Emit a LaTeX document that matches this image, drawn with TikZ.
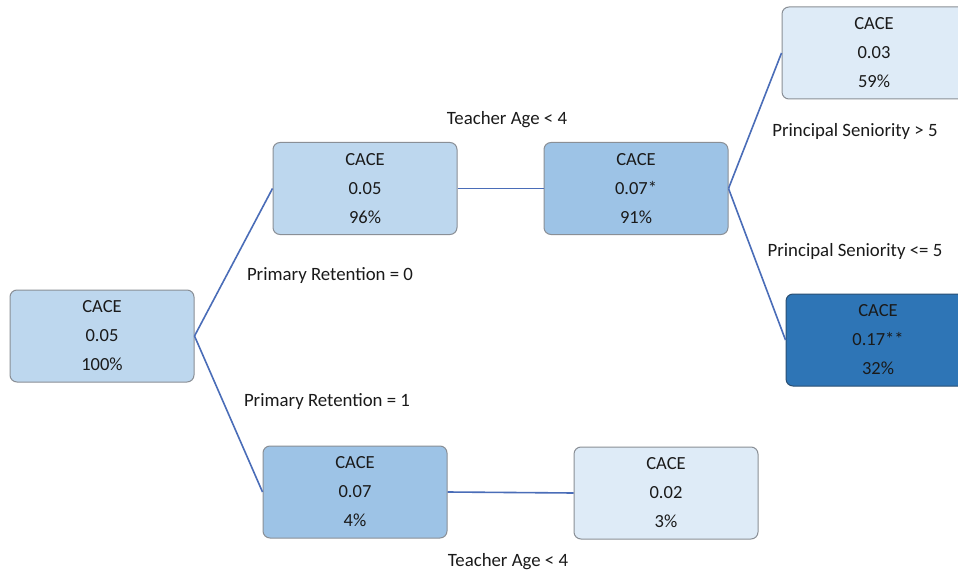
\documentclass[tikz,border=0pt]{standalone}
\usepackage{fontspec}
\setmainfont{Carlito}
\definecolor{boxmid}{HTML}{BDD7EE}
\definecolor{boxdeep}{HTML}{9DC3E6}
\definecolor{boxpale}{HTML}{DEEBF7}
\definecolor{boxdark}{HTML}{2E75B6}
\definecolor{boxedge}{HTML}{8A8F96}
\definecolor{darkedge}{HTML}{2A4F73}
\definecolor{branch}{HTML}{4A6DB8}
\definecolor{ink}{HTML}{1A1A1A}
\begin{document}
\begin{tikzpicture}[x=1pt,y=-1pt,
  treebox/.style={draw=boxedge, line width=1pt, rounded corners=7pt,
    minimum width=184pt, minimum height=92pt, inner sep=0pt,
    align=center, text=ink, font=\fontsize{18.5}{29}\selectfont},
  split/.style={text=ink, font=\fontsize{18.8}{22}\selectfont},
  branchline/.style={draw=branch, line width=1.6pt}]
  \clip (0,0) rectangle (958,572);
  \fill[white] (0,0) rectangle (958,572);

  % tree nodes
  \node[treebox, fill=boxmid]  (root) at (102,336) {CACE\\0.05\\100\%};
  \node[treebox, fill=boxmid]  (left0) at (365,188.5) {CACE\\0.05\\96\%};
  \node[treebox, fill=boxdeep] (mid0) at (636,188.5) {CACE\\0.07*\\91\%};
  \node[treebox, fill=boxpale] (senhi) at (874,53) {CACE\\0.03\\59\%};
  \node[treebox, fill=boxdark, draw=darkedge] (senlo) at (878,340) {CACE\\0.17**\\32\%};
  \node[treebox, fill=boxdeep] (left1) at (355,492) {CACE\\0.07\\4\%};
  \node[treebox, fill=boxpale] (mid1) at (666,493) {CACE\\0.02\\3\%};

  % branches
  \draw[branchline] (root.east) -- (left0.west);
  \draw[branchline] (root.east) -- (left1.west);
  \draw[branchline] (left0.east) -- (mid0.west);
  \draw[branchline] (mid0.east) -- (senhi.west);
  \draw[branchline] (mid0.east) -- (senlo.west);
  \draw[branchline] (left1.east) -- (mid1.west);

  % split conditions
  \node[split] (c1) at (507,119.5) {Teacher Age < 4};
  \node[split] (c2) at (330,275.5) {Primary Retention = 0};
  \node[split] (c3) at (327,401.5) {Primary Retention = 1};
  \node[split] (c4) at (855,131.5) {Principal Seniority > 5};
  \node[split] (c5) at (855,251.5) {Principal Seniority <= 5};
  \node[split] (c6) at (508,561.5) {Teacher Age < 4};
\end{tikzpicture}
\end{document}
